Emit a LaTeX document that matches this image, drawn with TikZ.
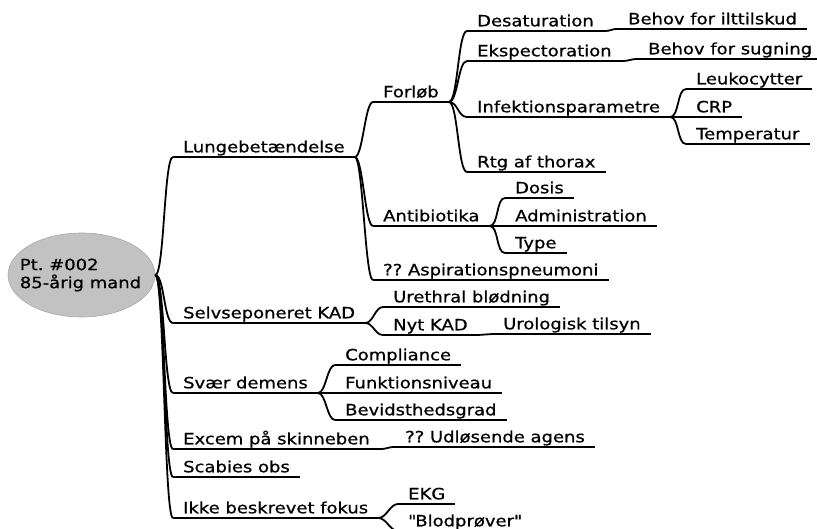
\documentclass[tikz,border=0pt]{standalone}
\usepackage{fontspec}
\setmainfont{DejaVu Sans}
\newfontfamily\mapfont{DejaVu Sans}[FakeStretch=1.16,FakeBold=0.8]
\usetikzlibrary{shapes.geometric}
\definecolor{rootfill}{RGB}{194,194,194}
\definecolor{rootline}{RGB}{170,170,170}
\frenchspacing

\begin{document}
\begin{tikzpicture}[x=1pt,y=-1pt,
  mapfontsize/.style={font=\mapfont\fontsize{15.5}{18}\selectfont},
  topic/.style={mapfontsize, anchor=south west, inner xsep=10pt, inner ysep=0pt,
                text height=11.5pt, text depth=4.5pt, text=black},
  rootnode/.style={ellipse, draw=rootline, fill=rootfill, line width=0.6pt,
                   minimum width=147pt, minimum height=84pt, inner sep=0pt},
  roottext/.style={mapfontsize, align=left, inner sep=0pt, text=black},
  uline/.style={line width=1.8pt, black},
  branch/.style={out=0, in=180, distance=#1},
  branch/.default=9pt,
]
\useasboundingbox (0,0) rectangle (817,529);
\clip (0,0) rectangle (817,529);

% central node
\node[rootnode] (root) at (81.5,275) {};
\node[roottext] (rootlabel) at ([xshift=-1pt]root.center) {Pt. \#002\\85-årig mand};

% first level
\node[topic] (lung)  at (173,157) {Lungebetændelse};
\node[topic] (selv)  at (173,323) {Selvseponeret KAD};
\node[topic] (svaer) at (173,393) {Svær demens};
\node[topic] (excem) at (173,449) {Excem på skinneben};
\node[topic] (scab)  at (173,477) {Scabies obs};
\node[topic] (ikke)  at (173,518) {Ikke beskrevet fokus};

% Lungebetændelse
\node[topic] (forlob) at (373,102) {Forløb};
\node[topic] (anti)   at (373,226) {Antibiotika};
\node[topic] (asp)    at (373,280) {?? Aspirationspneumoni};

\node[topic] (desat) at (467,31)  {Desaturation};
\node[topic] (eksp)  at (467,61)  {Ekspectoration};
\node[topic] (infek) at (467,117) {Infektionsparametre};
\node[topic] (rtg)   at (467,172) {Rtg af thorax};

\node[topic] (ilt) at (618,29) {Behov for ilttilskud};
\node[topic] (sug) at (638,59) {Behov for sugning};

\node[topic] (leuk) at (686,89)  {Leukocytter};
\node[topic] (crp)  at (686,117) {CRP};
\node[topic] (temp) at (686,144) {Temperatur};

\node[topic] (dosis) at (505,198) {Dosis};
\node[topic] (admin) at (505,226) {Administration};
\node[topic] (type)  at (505,253) {Type};

% Selvseponeret KAD
\node[topic] (ureth) at (383,307) {Urethral blødning};
\node[topic] (nyt)   at (383,335) {Nyt KAD};
\node[topic] (urol)  at (493,334) {Urologisk tilsyn};

% Svær demens
\node[topic] (compl) at (335,365) {Compliance};
\node[topic] (funk)  at (335,393) {Funktionsniveau};
\node[topic] (bevid) at (335,420) {Bevidsthedsgrad};

% Excem / Ikke beskrevet fokus
\node[topic] (udl)  at (395,447) {?? Udløsende agens};
\node[topic] (ekg)  at (398,504) {EKG};
\node[topic] (blod) at (398,531) {\textquotedbl Blodprøver\textquotedbl};

% underlines
\foreach \n in {lung,selv,svaer,excem,scab,ikke,forlob,anti,asp,desat,eksp,infek,rtg,
                ilt,sug,leuk,crp,temp,dosis,admin,type,ureth,nyt,urol,compl,funk,bevid,
                udl,ekg,blod}
  \draw[uline] (\n.south west) -- (\n.south east);

% branches
\foreach \c in {lung,selv,svaer,excem,scab,ikke}
  \draw[uline] (root.east) to[branch=9pt] (\c.south west);
\foreach \c in {forlob,anti,asp}
  \draw[uline] (lung.south east) to[branch=8pt] (\c.south west);
\foreach \c in {desat,eksp,infek,rtg}
  \draw[uline] (forlob.south east) to[branch=9pt] (\c.south west);
\draw[uline] (desat.south east) to[branch=8pt] (ilt.south west);
\draw[uline] (eksp.south east) to[branch=8pt] (sug.south west);
\foreach \c in {leuk,crp,temp}
  \draw[uline] (infek.south east) to[branch=9pt] (\c.south west);
\foreach \c in {dosis,admin,type}
  \draw[uline] (anti.south east) to[branch=9pt] (\c.south west);
\foreach \c in {ureth,nyt}
  \draw[uline] (selv.south east) to[branch=8pt] (\c.south west);
\draw[uline] (nyt.south east) to[branch=7pt] (urol.south west);
\foreach \c in {compl,funk,bevid}
  \draw[uline] (svaer.south east) to[branch=8pt] (\c.south west);
\draw[uline] (excem.south east) to[branch=8pt] (udl.south west);
\foreach \c in {ekg,blod}
  \draw[uline] (ikke.south east) to[branch=8pt] (\c.south west);
\end{tikzpicture}
\end{document}
